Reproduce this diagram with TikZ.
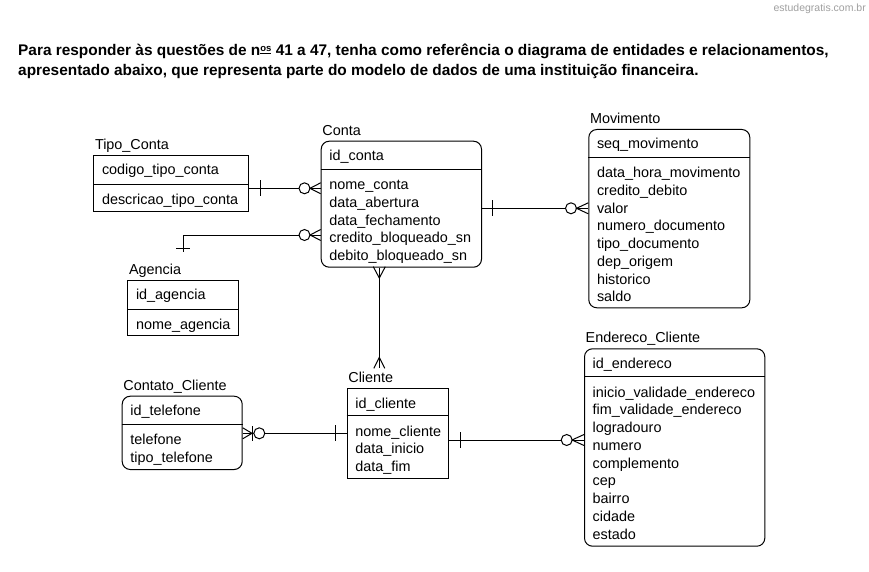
\documentclass[tikz,border=0pt]{standalone}
\usepackage{fontspec}
\setmainfont{Liberation Sans}
\usetikzlibrary{calc}
\definecolor{wm}{RGB}{160,160,160}
\newcommand{\attrfont}{\fontsize{14.4}{17}\selectfont}
\newcommand{\rowlist}[4]{%
  \foreach \t [count=\i from 0] in {#4}
    \node[attr] (#1-\i) at ({#2},{#3+\i*17.75}) {\t};}
\begin{document}
\begin{tikzpicture}[x=1pt,y=-1pt,
  ent/.style={draw, line width=1pt, inner sep=0pt, anchor=north west},
  rent/.style={ent, rounded corners=8pt},
  attr/.style={anchor=base west, inner sep=0pt, font=\attrfont},
  elabel/.style={anchor=base west, inner sep=0pt, font=\attrfont},
  rel/.style={line width=1pt},
  ring/.style={draw, line width=1pt, fill=white, circle, inner sep=0pt, minimum size=11pt}]
\useasboundingbox (0,0) rectangle (869,572);
\fill[white] (0,0) rectangle (869,572);
% watermark and title
\node[anchor=base east, inner sep=0pt, text=wm, font=\fontsize{10.5}{12}\selectfont] (wmark) at (866,12) {estudegratis.com.br};
\node[anchor=base west, inner sep=0pt, font=\bfseries\fontsize{15.4}{19}\selectfont] (title1) at (18,56) {Para responder às questões de n\raisebox{4.5pt}{\fontsize{9.5}{9.5}\selectfont\underline{os}} 41 a 47, tenha como referência o diagrama de entidades e relacionamentos,};
\node[anchor=base west, inner sep=0pt, font=\bfseries\fontsize{15.4}{19}\selectfont] (title2) at (18,76) {apresentado abaixo, que representa parte do modelo de dados de uma instituição financeira.};

% Tipo_Conta
\node[ent, minimum width=155pt, minimum height=55.7pt] (tipo) at (93.3,155) {};
\node[elabel] (tipolbl) at (94.8,149.5) {Tipo\_Conta};
\draw[rel] (tipo.west |- 0,184.3) -- (tipo.east |- 0,184.3);
\rowlist{tipo}{101.8}{174.7}{codigo\_tipo\_conta}
\rowlist{tipod}{101.8}{204.6}{descricao\_tipo\_conta}

% Conta
\node[rent, minimum width=160.3pt, minimum height=126pt] (conta) at (320.7,140.7) {};
\node[elabel] (contalbl) at (322.2,135.2) {Conta};
\draw[rel] (conta.west |- 0,169.3) -- (conta.east |- 0,169.3);
\rowlist{conta}{329.2}{160.4}{id\_conta}
\rowlist{contad}{329.2}{189.6}{nome\_conta,data\_abertura,data\_fechamento,credito\_bloqueado\_sn,debito\_bloqueado\_sn}

% Movimento
\node[rent, minimum width=161pt, minimum height=178.3pt] (mov) at (588.3,129) {};
\node[elabel] (movlbl) at (589.8,123.5) {Movimento};
\draw[rel] (mov.west |- 0,157.3) -- (mov.east |- 0,157.3);
\rowlist{mov}{596.8}{148.7}{seq\_movimento}
\rowlist{movd}{596.8}{177.6}{data\_hora\_movimento,credito\_debito,valor,numero\_documento,tipo\_documento,dep\_origem,historico,saldo}

% Agencia
\node[ent, minimum width=111pt, minimum height=55pt] (ag) at (127.3,280) {};
\node[elabel] (aglbl) at (128.8,274.5) {Agencia};
\draw[rel] (ag.west |- 0,309.3) -- (ag.east |- 0,309.3);
\rowlist{ag}{135.8}{299.7}{id\_agencia}
\rowlist{agd}{135.8}{329.6}{nome\_agencia}

% Cliente
\node[ent, minimum width=101.6pt, minimum height=90pt] (cli) at (346.7,388.3) {};
\node[elabel] (clilbl) at (348.2,382.8) {Cliente};
\draw[rel] (cli.west |- 0,415.7) -- (cli.east |- 0,415.7);
\rowlist{cli}{355.2}{408}{id\_cliente}
\rowlist{clid}{355.2}{436}{nome\_cliente,data\_inicio,data\_fim}

% Contato_Cliente
\node[rent, minimum width=120pt, minimum height=73.3pt] (cont) at (121.7,395.7) {};
\node[elabel] (contlbl) at (123.2,390.2) {Contato\_Cliente};
\draw[rel] (cont.west |- 0,424.3) -- (cont.east |- 0,424.3);
\rowlist{cont}{130.2}{415.4}{id\_telefone}
\rowlist{contd}{130.2}{444.6}{telefone,tipo\_telefone}

% Endereco_Cliente
\node[rent, minimum width=180.3pt, minimum height=197.4pt] (end) at (584,348.3) {};
\node[elabel] (endlbl) at (585.5,342.8) {Endereco\_Cliente};
\draw[rel] (end.west |- 0,376.7) -- (end.east |- 0,376.7);
\rowlist{end}{592.5}{368}{id\_endereco}
\rowlist{endd}{592.5}{397}{inicio\_validade\_endereco,fim\_validade\_endereco,logradouro,numero,complemento,cep,bairro,cidade,estado}

% ---- relationships ----
% Tipo_Conta -- Conta
\draw[rel] (tipo.east |- 0,188.3) -- (conta.west |- 0,188.3);
\draw[rel] (260,180.3) -- (260,196.3);
\node[ring] (r1) at (304.5,188.3) {};
\draw[rel] (conta.west |- 0,182.8) -- (310,188.3) -- (conta.west |- 0,193.8);

% Agencia -- Conta
\coordinate (agend) at ($(ag.north)+(0,-28)$);
\draw[rel] (conta.west |- 0,235) -| (agend);
\draw[rel] (176,248.3) -- (190,248.3);
\node[ring] (r2) at (304.5,235) {};
\draw[rel] (conta.west |- 0,229.5) -- (310,235) -- (conta.west |- 0,240.5);

% Conta -- Movimento
\draw[rel] (conta.east |- 0,208.3) -- (mov.west |- 0,208.3);
\draw[rel] (492.3,200.3) -- (492.3,216.3);
\node[ring] (r3) at (571,208.3) {};
\draw[rel] (mov.west |- 0,202.8) -- (576.5,208.3) -- (mov.west |- 0,213.8);

% Conta -- Cliente
\coordinate (cliend) at ($(cli.north west)+(32.6,-20)$);
\draw[rel] (conta.south -| cliend) -- (cliend);
\draw[rel] (373.3,266.7) -- (379.3,278) -- (385.3,266.7);
\draw[rel] (373.8,368.3) -- (379.3,357.3) -- (384.8,368.3);

% Contato -- Cliente
\draw[rel] (cont.east |- 0,433.3) -- (cli.west |- 0,433.3);
\draw[rel] (cont.east |- 0,427.8) -- (252,433.3) -- (cont.east |- 0,438.8);
\draw[rel] (252.5,426) -- (252.5,441);
\node[ring] (r4) at (259.3,433.3) {};
\draw[rel] (335.7,425.3) -- (335.7,441.3);

% Cliente -- Endereco
\draw[rel] (cli.east |- 0,440) -- (end.west |- 0,440);
\draw[rel] (460,432) -- (460,448);
\node[ring] (r5) at (566.7,440) {};
\draw[rel] (end.west |- 0,434.5) -- (572,440) -- (end.west |- 0,445.5);
\end{tikzpicture}
\end{document}
